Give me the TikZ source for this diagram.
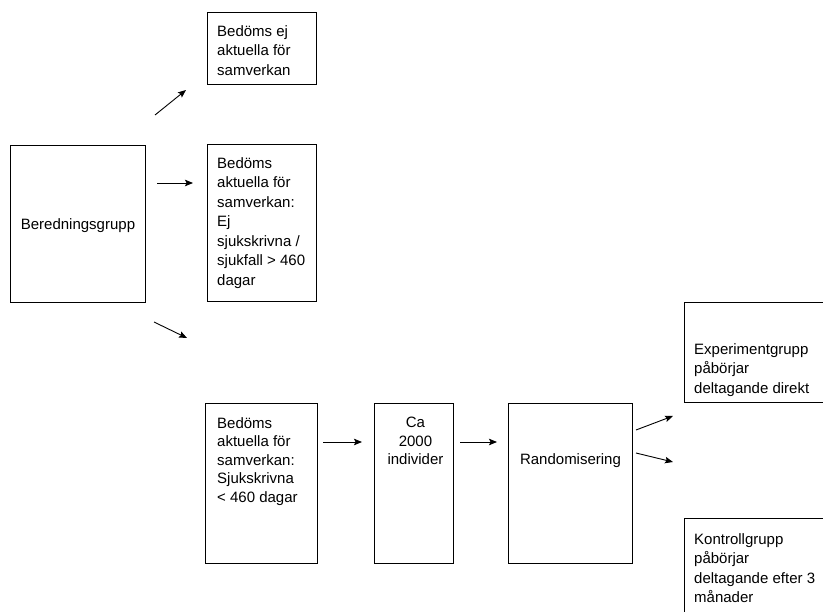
\documentclass[tikz,border=0pt]{standalone}
\usepackage{fontspec}
\setmainfont{Liberation Sans}
\usetikzlibrary{arrows.meta}
\usetikzlibrary{positioning}

\begin{document}
\begin{tikzpicture}[x=1pt, y=-1pt,
  box/.style={draw, line width=1pt, inner sep=0, anchor=north west},
  txt/.style={inner sep=0, align=left, font=\fontsize{15}{19.5}\selectfont},
  pil/.style={black, line width=.9pt, ->, >={Stealth[length=8pt, width=6.5pt, inset=1.5pt]}}]
\useasboundingbox (0,0) rectangle (823,612);
\clip (0,0) rectangle (823,612);
% rutor
\node[box, minimum width=135, minimum height=157] (bered) at (10,145) {};
\node[box, minimum width=109, minimum height=72] (ej) at (207,12) {};
\node[box, minimum width=109, minimum height=157] (ejsjuk) at (207,144) {};
\node[box, minimum width=112, minimum height=160] (sjuk) at (205,403) {};
\node[box, minimum width=79, minimum height=160] (ca) at (374,403) {};
\node[box, minimum width=124, minimum height=160] (rand) at (508,403) {};
\node[box, minimum width=150, minimum height=100] (exp) at (684,302) {};
\node[box, minimum width=150, minimum height=110] (kontr) at (684,518) {};
% texter
\node[txt, below=73pt of bered.north] (beredtxt) {Beredningsgrupp};
\node[txt, below right=13pt and 10pt of ej.north west] (ejtxt) {Bedöms ej\\aktuella för\\samverkan};
\node[txt, below right=13pt and 10pt of ejsjuk.north west] (ejsjuktxt) {Bedöms\\aktuella för\\samverkan:\\Ej\\sjukskrivna /\\sjukfall > 460\\dagar};
\node[txt, below right=14pt and 12pt of sjuk.north west, font=\fontsize{15}{18.6}\selectfont] (sjuktxt) {Bedöms\\aktuella för\\samverkan:\\Sjukskrivna\\< 460 dagar};
\node[txt, align=center, below=14pt of ca.north, xshift=1.5pt, font=\fontsize{15}{18.6}\selectfont] (catxt) {Ca\\2000\\individer};
\node[txt, below=50pt of rand.north] (randtxt) {Randomisering};
\node[txt, below right=41pt and 10pt of exp.north west] (exptxt) {Experimentgrupp\\påbörjar\\deltagande direkt};
\node[txt, below right=15pt and 10pt of kontr.north west] (kontrtxt) {Kontrollgrupp\\påbörjar\\deltagande efter 3\\månader};
% pilar
\coordinate (p1a) at (155,115); \coordinate (p1b) at (186,90);
\coordinate (p2a) at (157,183); \coordinate (p2b) at (193,183);
\coordinate (p3a) at (154,322); \coordinate (p3b) at (187,338);
\coordinate (p4a) at (323,442); \coordinate (p4b) at (362,442);
\coordinate (p5a) at (460,442); \coordinate (p5b) at (497,442);
\coordinate (p6a) at (636,430); \coordinate (p6b) at (673,416);
\coordinate (p7a) at (636,453); \coordinate (p7b) at (673,462);
\foreach \n in {1,...,7} {
 \draw[pil] (p\n a)--(p\n b);
}
\end{tikzpicture}
\end{document}
